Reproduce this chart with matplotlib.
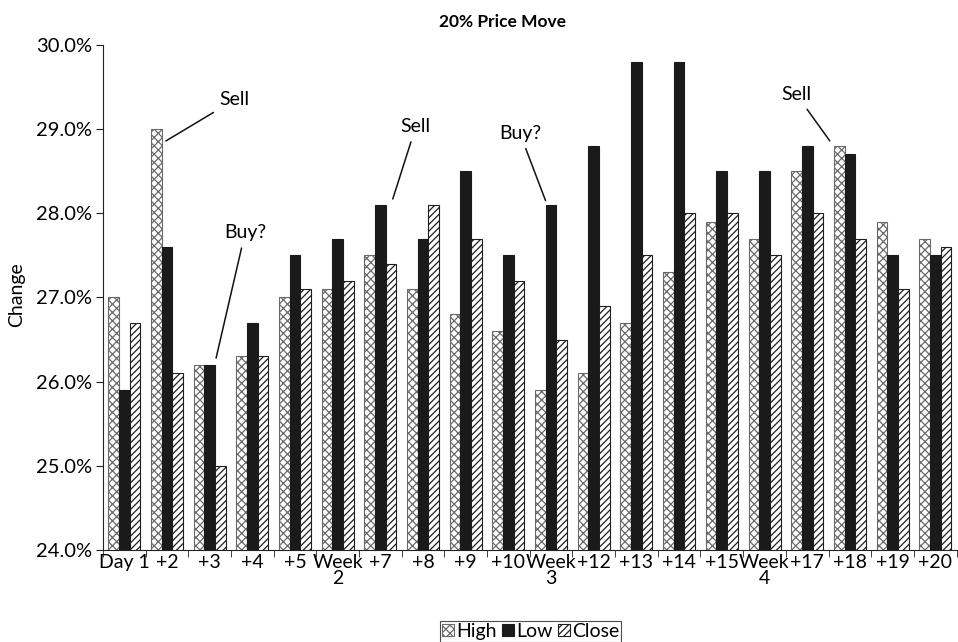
import matplotlib
matplotlib.use("Agg")
import matplotlib.pyplot as plt
import numpy as np

categories = ["Day 1", "+2", "+3", "+4", "+5", "Week\n2", "+7", "+8", "+9", "+10",
              "Week\n3", "+12", "+13", "+14", "+15", "Week\n4", "+17", "+18", "+19", "+20"]
high = [27.0, 29.0, 26.2, 26.3, 27.0, 27.1, 27.5, 27.1, 26.8, 26.6,
        25.9, 26.1, 26.7, 27.3, 27.9, 27.7, 28.5, 28.8, 27.9, 27.7]
low = [25.9, 27.6, 26.2, 26.7, 27.5, 27.7, 28.1, 27.7, 28.5, 27.5,
       28.1, 28.8, 29.8, 29.8, 28.5, 28.5, 28.8, 28.7, 27.5, 27.5]
close = [26.7, 26.1, 25.0, 26.3, 27.1, 27.2, 27.4, 28.1, 27.7, 27.2,
         26.5, 26.9, 27.5, 28.0, 28.0, 27.5, 28.0, 27.7, 27.1, 27.6]
yticks = [24.0, 25.0, 26.0, 27.0, 28.0, 29.0, 30.0]

# annotations: (text, point xy, text xy)
notes = [
    ("Sell", (0.975, 28.86), (2.59, 29.35)),
    ("Buy?", (2.15, 26.28), (2.83, 27.77)),
    ("Sell", (6.29, 28.17), (6.83, 29.03)),
    ("Buy?", (9.87, 28.15), (9.27, 28.95)),
    ("Sell", (16.53, 28.86), (15.75, 29.41)),
]

plt.rcParams['font.family'] = ['Lato', 'DejaVu Sans']
plt.rcParams['hatch.linewidth'] = 0.9

FS = 14

fig = plt.figure(figsize=(9.58, 6.42), dpi=100)
ax = fig.add_axes([0.1075, 0.1433, 0.891, 0.7867])

x = np.arange(len(categories))
w = 0.25
ax.bar(x - w, high, w, color='white', edgecolor='#6a6a6a', hatch='xxxx',
       linewidth=0.8, label='High')
ax.bar(x, low, w, color='#1a1a1a', edgecolor='#1a1a1a', linewidth=0.8, label='Low')
ax.bar(x + w, close, w, color='white', edgecolor='#1e1e1e', hatch='/////',
       linewidth=0.8, label='Close')

ax.set_ylim(24.0, 30.0)
ax.set_xlim(-0.5, len(categories) - 0.5)
ax.set_yticks(yticks)
ax.set_yticklabels([f"{v:.1f}%" for v in yticks], fontsize=14.5)
ax.set_xticks(x)
ax.set_xticklabels(categories, fontsize=FS, linespacing=0.95)
ax.tick_params(axis='x', length=0, pad=3)
ax.set_xticks(np.arange(-0.5, len(categories), 1.0), minor=True)
ax.tick_params(axis='x', which='minor', length=5, direction='out', color='#222222')
ax.tick_params(axis='y', length=5, direction='out', color='#222222', pad=3)
for s in ['top', 'right']:
    ax.spines[s].set_visible(False)
ax.spines['left'].set_color('#222222')
ax.spines['bottom'].set_color('#222222')

ax.set_ylabel("Change", fontsize=FS)
ax.yaxis.set_label_coords(-0.091, 0.505)
fig.text(0.525, 0.965, "20% Price Move", ha='center', va='center', fontsize=12.5,
         fontweight='bold')

arrow = dict(arrowstyle='-', color='#111111', lw=1.1, shrinkA=3, shrinkB=0)
for txt, xy, xyt in notes:
    ax.annotate(txt, xy=xy, xytext=xyt, fontsize=FS, ha='center', va='center',
                arrowprops=arrow)

leg = fig.legend(loc='center', bbox_to_anchor=(0.554, 0.0165), ncol=3, fontsize=14,
                 frameon=True, fancybox=False, edgecolor='#222222',
                 handlelength=0.6, handleheight=0.6, handletextpad=0.1,
                 columnspacing=0.3, borderpad=0.1, borderaxespad=0)
leg.get_frame().set_linewidth(0.8)

fig.savefig("out.png", dpi=100)
